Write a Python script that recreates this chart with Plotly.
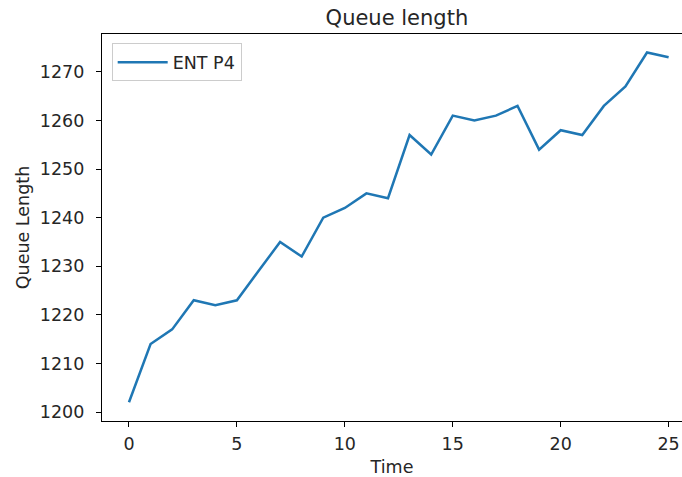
import plotly.graph_objects as go

time = list(range(26))
queue_length = [1202, 1214, 1217, 1223, 1222, 1223, 1229, 1235, 1232, 1240,
                1242, 1245, 1244, 1257, 1253, 1261, 1260, 1261, 1263, 1254,
                1258, 1257, 1263, 1267, 1274, 1273]
series_name = "ENT P4"
x_ticks = [0, 5, 10, 15, 20, 25]
y_ticks = [1200, 1210, 1220, 1230, 1240, 1250, 1260, 1270]

font_family = "DejaVu Sans"
text_color = "#262626"

fig = go.Figure()
fig.add_trace(go.Scatter(x=time, y=queue_length, mode="lines", name=series_name,
                         line=dict(color="#1f77b4", width=2.5)))

fig.update_layout(
    width=682, height=477,
    margin=dict(l=102, r=0, t=34, b=56, autoexpand=False),
    paper_bgcolor="white", plot_bgcolor="white",
    font=dict(family=font_family, size=17.5, color=text_color),
    title=dict(text="Queue length", x=0.582, xref="container", xanchor="center",
               y=1 - 18/477, yref="container", yanchor="middle",
               font=dict(size=21, color=text_color)),
    showlegend=True,
    legend=dict(x=0.0167, y=0.976, xanchor="left", yanchor="top",
                bordercolor="#cccccc", borderwidth=1, bgcolor="rgba(255,255,255,0.8)",
                itemwidth=50,
                font=dict(size=17.5, color=text_color)),
)
fig.update_xaxes(range=[-1.25, 25.62], tickvals=x_ticks, ticks="outside", ticklen=5,
                 tickwidth=1.2, tickcolor="#000", showline=True, linecolor="#000",
                 linewidth=1.2, mirror=True, showgrid=False, zeroline=False,
                 ticklabelstandoff=2,
                 title=dict(text="Time", standoff=8, font=dict(size=17.5)))
fig.update_yaxes(range=[1198.15, 1277.8], tickvals=y_ticks, ticks="outside", ticklen=5,
                 tickwidth=1.2, tickcolor="#000", showline=True, linecolor="#000",
                 linewidth=1.2, mirror=False, showgrid=False, zeroline=False,
                 ticklabelstandoff=8,
                 title=dict(text="Queue Length", standoff=5, font=dict(size=17.5)))

fig.write_html("out.html", config={"displayModeBar": False},
               post_script="document.body.style.margin='0';document.body.style.overflow='hidden';")
